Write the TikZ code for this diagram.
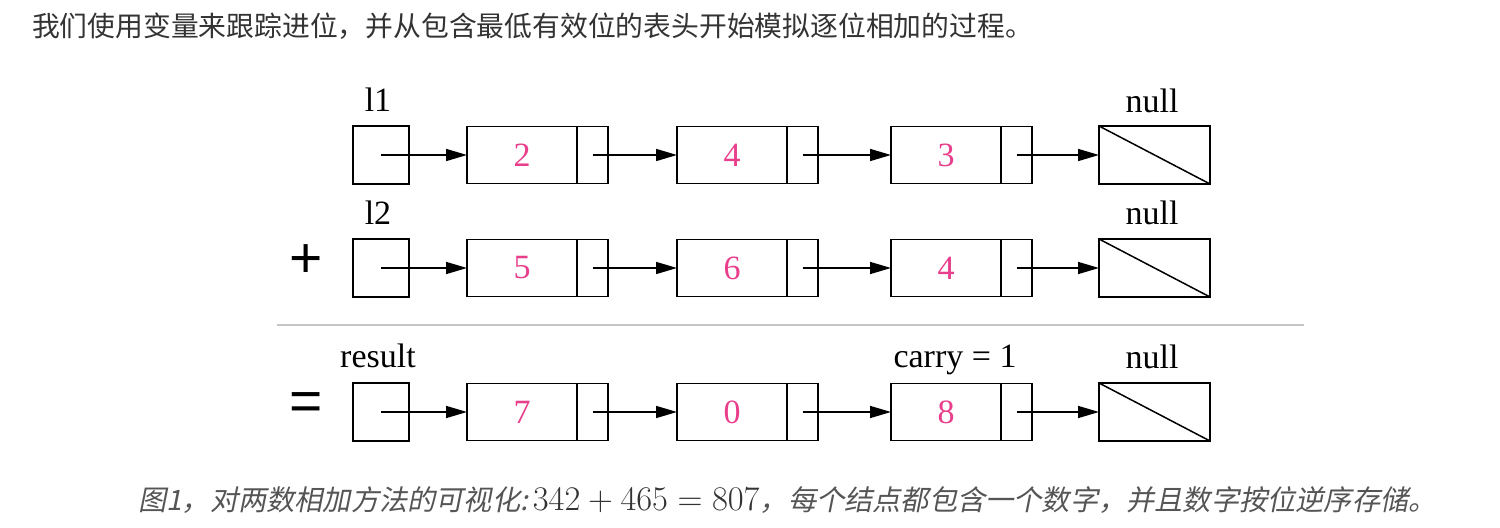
\documentclass[tikz,border=0pt]{standalone}
\usepackage{fontspec}
\setmainfont{Liberation Serif}
\newfontfamily\cjk{Noto Sans CJK SC}
\newfontfamily\cjkslant{Noto Sans CJK SC}[FakeSlant=0.2]
\newfontfamily\signfont{Liberation Sans}
\usetikzlibrary{arrows.meta,positioning}
\definecolor{digitPink}{HTML}{E83E8C}
\definecolor{introGray}{HTML}{333333}
\definecolor{captionGray}{HTML}{555555}

\begin{document}
\begin{tikzpicture}[x=0.5pt,y=-0.5pt,
    cell/.style={draw, line width=0.75pt, inner sep=0pt, outer sep=0pt},
    headbox/.style={cell, minimum width=28pt, minimum height=29pt},
    databox/.style={cell, minimum width=55pt, minimum height=28.5pt, text=digitPink, font=\fontsize{17}{20}\selectfont},
    ptrbox/.style={cell, minimum width=15.5pt, minimum height=28.5pt},
    nullbox/.style={cell, minimum width=55.5pt, minimum height=29pt},
    lbl/.style={anchor=base, font=\fontsize{17}{20}\selectfont},
    sign/.style={font=\signfont\fontsize{28.5}{30}\selectfont},
    ptr/.style={-{Triangle[length=10.5pt,width=6pt]}, line width=0.8pt}]
            \useasboundingbox (0,0) rectangle (1500,528);
            \node[anchor=base west, text=introGray, font=\cjk\fontsize{13.9}{16}\selectfont] (intro) at (25,37) {我们使用变量来跟踪进位，并从包含最低有效位的表头开始模拟逐位相加的过程。};
            % three rows of linked lists
            \foreach \r/\yy/\a/\b/\c in {1/155/2/4/3, 2/268/5/6/4, 3/412/7/0/8} {
                \node[headbox] (h\r) at (381,\yy) {};
                \node[databox] (a\r) at (522,\yy) {\a};
                \node[ptrbox, right=0pt of a\r] (pa\r) {};
                \node[databox] (b\r) at (732,\yy) {\b};
                \node[ptrbox, right=0pt of b\r] (pb\r) {};
                \node[databox] (c\r) at (946,\yy) {\c};
                \node[ptrbox, right=0pt of c\r] (pc\r) {};
                \node[nullbox] (n\r) at (1154.5,\yy) {};
                \draw[line width=0.75pt] (n\r.north west) -- (n\r.south east);
                \draw[ptr] (h\r.center) -- (a\r.west);
                \draw[ptr] (pa\r.center) -- (b\r.west);
                \draw[ptr] (pb\r.center) -- (c\r.west);
                \draw[ptr] (pc\r.center) -- (n\r.west);
            }
            \node[lbl] (l1) at (378,112) {l1};
            \node[lbl] (null1) at (1152,113) {null};
            \node[lbl] (l2) at (378,225) {l2};
            \node[lbl] (null2) at (1152,225) {null};
            \node[lbl] (res) at (378,368) {result};
            \node[lbl] (carry) at (955,368) {carry = 1};
            \node[lbl] (null3) at (1152,369) {null};
            \node[sign] (plus) at (306,261) {+};
            \node[sign] (equal) at (306,407) {=};
            \draw[gray!45, line width=0.6pt] (277,325) -- (1304,325);
            \node[anchor=base west, text=captionGray, font=\cjkslant\fontsize{14.1}{16}\selectfont] (caption) at (131,511) {图1，对两数相加方法的可视化:\,{\fontsize{18.3}{20}\selectfont\color{introGray}$342+465=807$}，每个结点都包含一个数字，并且数字按位逆序存储。};
        \end{tikzpicture}
\end{document}
